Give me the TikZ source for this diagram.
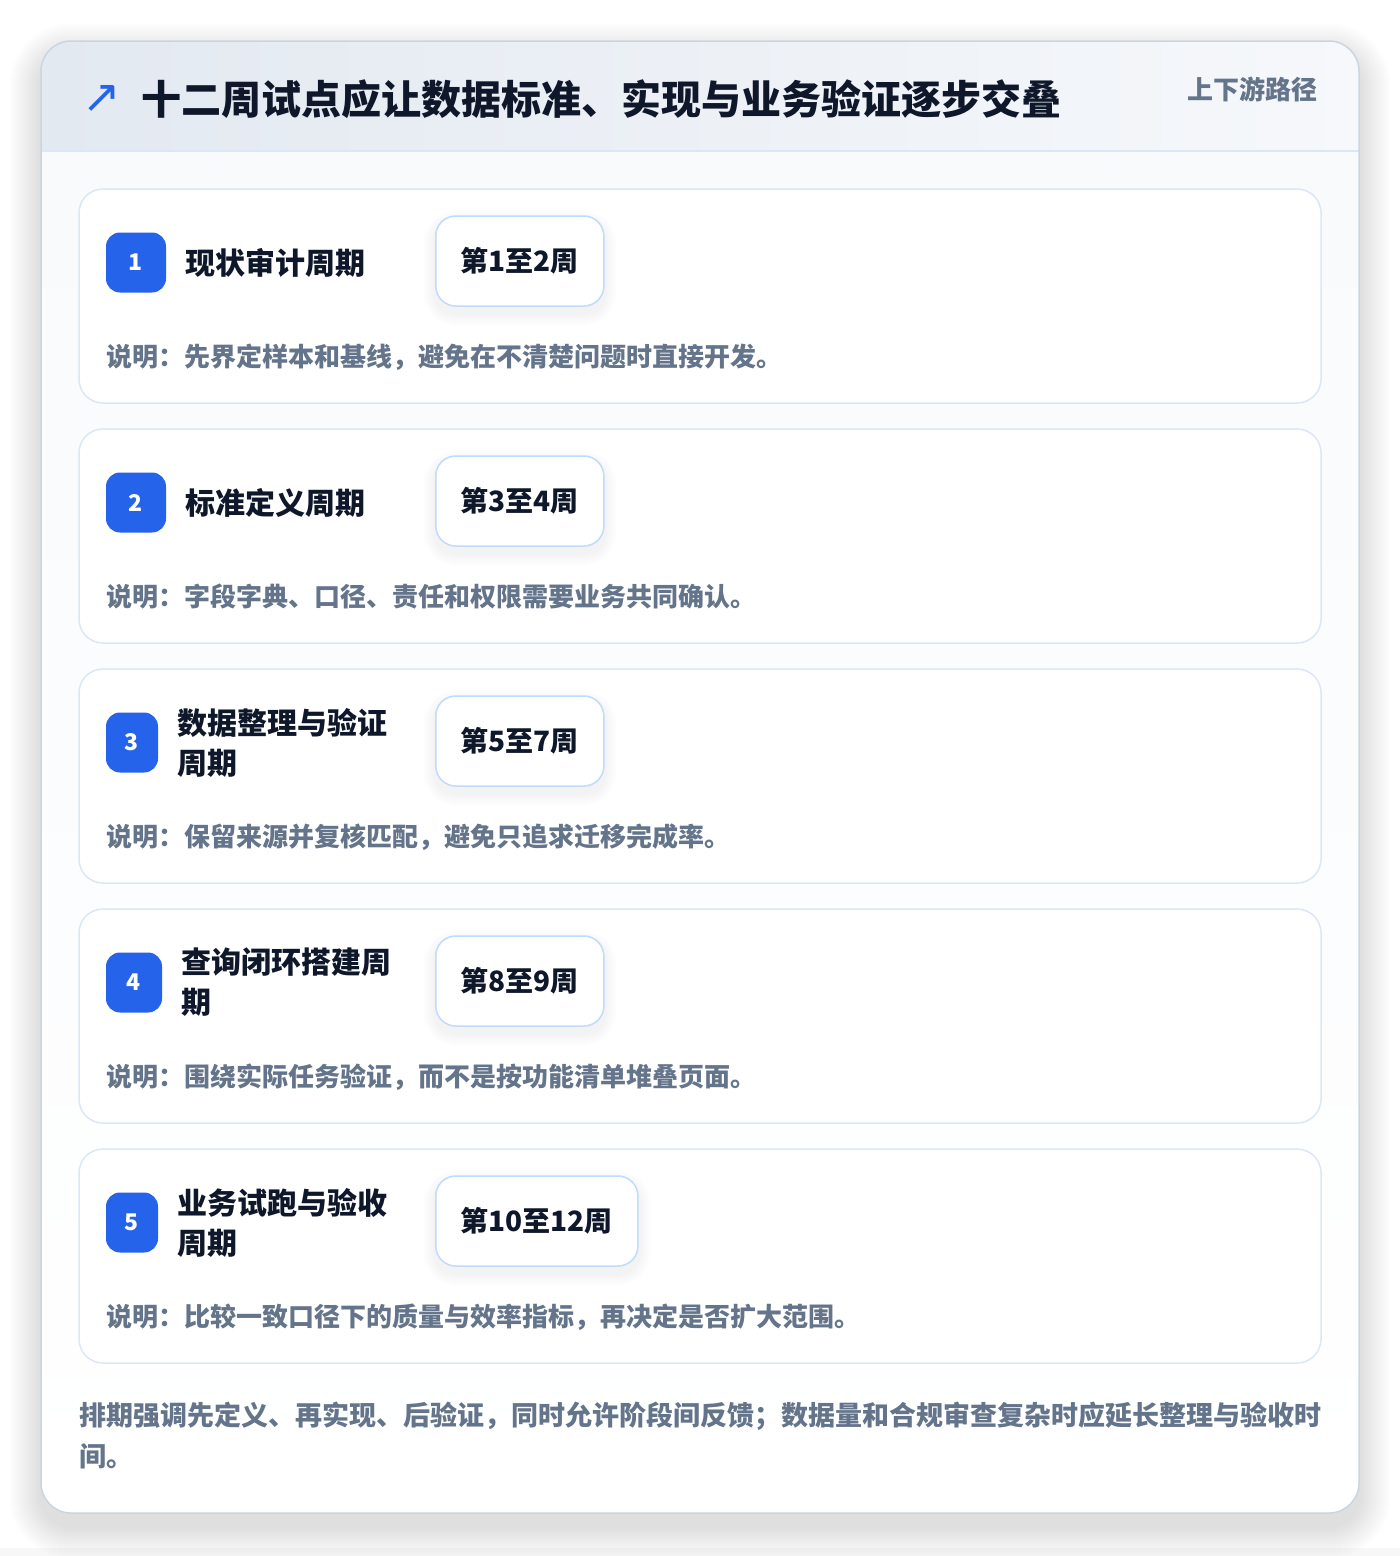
\documentclass[tikz,border=0pt]{standalone}
\usepackage{fontspec}
\setmainfont{Noto Sans CJK SC}
\newfontfamily\symfont{DejaVu Sans}
\definecolor{ink}{HTML}{0F172A}
\definecolor{muted}{HTML}{64748B}
\definecolor{blue1}{HTML}{2563EB}
\definecolor{cardline}{HTML}{DBE7F7}
\definecolor{pillline}{HTML}{BFDBFE}
\definecolor{outerline}{HTML}{CBD5E1}
\definecolor{headl}{HTML}{E3E9F1}
\definecolor{headr}{HTML}{F6F8FB}
\definecolor{bodytop}{HTML}{F8FAFC}
\pgfdeclarelayer{bg}
\pgfdeclarelayer{shadow}
\pgfsetlayers{bg,shadow,main}
\tikzset{
  card/.style={draw=cardline, line width=1.5pt, fill=white, rounded corners=24pt,
    minimum width=1242pt, minimum height=214pt, inner sep=0pt},
  badge/.style={fill=blue1, rounded corners=14pt, minimum height=60pt, inner sep=0pt,
    text=white, font=\bfseries\fontsize{23}{23}\selectfont},
  stitle/.style={anchor=west, align=left, inner sep=0pt, text=ink,
    font=\bfseries\fontsize{30}{40}\selectfont},
  pill/.style={anchor=west, draw=pillline, line width=1.5pt, fill=white, rounded corners=20pt,
    minimum height=90pt, inner xsep=25pt, text=ink, font=\bfseries\fontsize{28}{28}\selectfont},
  desc/.style={anchor=west, inner sep=0pt, text=muted, font=\bfseries\fontsize{26}{30}\selectfont},
  softshadow/.style={fill=black, opacity=#1},
}
\begin{document}
\begin{tikzpicture}[x=1pt,y=-1pt]
\useasboundingbox (0,0) rectangle (1400,1556);
\begin{pgfonlayer}{bg}
\fill[white] (0,0) rectangle (1400,1556);
\fill[black!3] (0,1548) rectangle (1400,1556);
% outer card shadow
\foreach \k in {1,...,32}{
  \fill[softshadow=0.0036, rounded corners={30+\k}] (41-\k,41-\k+14) rectangle (1359+\k,1513+\k+14);
}
\begin{scope}
  \clip[rounded corners=30pt] (41,41) rectangle (1359,1513);
  \shade[left color=headl, right color=headr] (41,41) rectangle (1359,151);
  \shade[top color=bodytop, bottom color=white] (41,151) rectangle (1359,1513);
  \draw[cardline, line width=1.5pt] (41,151) -- (1359,151);
\end{scope}
\draw[outerline, line width=1.5pt, rounded corners=30pt] (41,41) rectangle (1359,1513);
\end{pgfonlayer}
% header
\node[inner sep=0pt, text=blue1, font=\symfont\fontsize{46}{46}\selectfont] (arrow) at (102,99) {↗};
\node[anchor=west, inner sep=0pt, text=ink, font=\bfseries\fontsize{40}{40}\selectfont] (title) at (141,99) {十二周试点应让数据标准、实现与业务验证逐步交叠};
\node[anchor=east, inner sep=0pt, text=muted, font=\bfseries\fontsize{26}{26}\selectfont] (tag) at (1318,89) {上下游路径};
% cards
\foreach \i/\bw/\ttl/\wk/\ds in {
  1/60/{现状审计周期}/{第1至2周}/{说明：先界定样本和基线，避免在不清楚问题时直接开发。},
  2/60/{标准定义周期}/{第3至4周}/{说明：字段字典、口径、责任和权限需要业务共同确认。},
  3/52/{数据整理与验证\\周期}/{第5至7周}/{说明：保留来源并复核匹配，避免只追求迁移完成率。},
  4/56/{查询闭环搭建周\\期}/{第8至9周}/{说明：围绕实际任务验证，而不是按功能清单堆叠页面。},
  5/52/{业务试跑与验收\\周期}/{第10至12周}/{说明：比较一致口径下的质量与效率指标，再决定是否扩大范围。}}{
  \pgfmathsetmacro{\top}{189+240*(\i-1)}
  \begin{pgfonlayer}{bg}
    \node[card] (card\i) at (700,\top+107) {};
  \end{pgfonlayer}
  \node[badge, minimum width=\bw pt] (badge\i) at (106+\bw/2,\top+73.5) {\i};
  \node[stitle] (stage\i) at ([xshift=19pt]badge\i.east) {\ttl};
  \node[pill] (week\i) at (435,\top+72) {\wk};
  \node[desc] (desc\i) at (106,\top+168) {\ds};
  \begin{pgfonlayer}{shadow}
    \foreach \k in {1,...,12}{
      \fill[softshadow=0.005, rounded corners={20+\k}]
        ([shift={(-\k,-\k+7)}]week\i.north west) rectangle ([shift={(\k,\k+7)}]week\i.south east);
    }
  \end{pgfonlayer}
}
% footer
\node[anchor=north west, align=left, inner sep=0pt, text=muted, font=\bfseries\fontsize{27}{41}\selectfont] (note) at (79,1402)
  {排期强调先定义、再实现、后验证，同时允许阶段间反馈；数据量和合规审查复杂时应延长整理与验收时\\间。};
\end{tikzpicture}
\end{document}
